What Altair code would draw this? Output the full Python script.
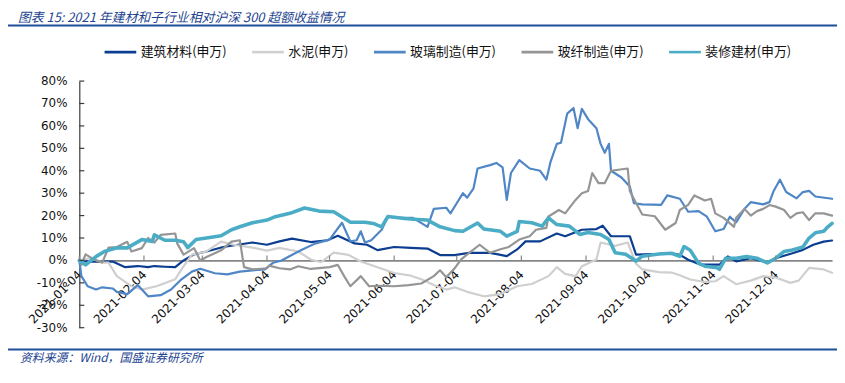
import altair as alt
import pandas as pd

# ---------------- data ----------------
TITLE = "图表 15:  2021 年建材和子行业相对沪深 300 超额收益情况"
SOURCE = "资料来源：Wind，国盛证券研究所"
START = "2021-01-04"
END = "2021-12-31"

SERIES = ["建筑材料(申万)", "水泥(申万)", "玻璃制造(申万)", "玻纤制造(申万)", "装修建材(申万)"]

# days since 2021-01-04 and excess return (%)
jzcl_days = [0, 5, 16, 22, 28, 33, 36, 41, 46, 50, 55, 61, 69, 76, 83, 90, 96, 102, 111, 119,
             124, 132, 138, 143, 151, 159, 167, 173, 180, 187, 197, 202, 205, 210, 214, 221, 229, 233, 241, 248,
             251, 255, 264, 267, 278, 284, 288, 292, 298, 307, 311, 315, 322, 330, 334, 342, 347, 352, 357, 361]
jzcl_vals = [0, -0.5, -0.5, -3, -2.5, -3, -2.5, -2.8, -3, 0, 2.7, 4, 6, 7, 8, 7, 8.5, 9.7, 8.2, 9,
             11, 7.6, 7, 4.6, 6, 5.6, 5.3, 2.4, 2.4, 3.4, 3.4, 2.5, 1.9, 4.9, 8.5, 8.5, 12, 10.8, 13.7, 14,
             15.5, 10.8, 10.8, 2.6, 2.9, 3.2, 2.5, 0.3, -1.9, -1.9, 1.8, -0.4, 1, -0.9, 1, 3.2, 4.7, 7, 8.4, 8.9]

sn_days = [0, 5, 12, 14, 18, 25, 30, 37, 46, 49, 54, 61, 68, 74, 83, 90, 96, 105, 111, 116,
           122, 129, 135, 143, 151, 159, 164, 170, 176, 180, 186, 194, 202, 210, 217, 225, 229, 233, 238, 241,
           248, 250, 257, 263, 267, 270, 278, 284, 288, 293, 300, 305, 309, 315, 322, 328, 334, 341, 345, 350,
           357, 361]
sn_vals = [0, 1, -1, -1, -7, -11.5, -13, -11.5, -8.4, -4, 2.6, 4, 8.4, 7, 5.7, 4.4, 5.6, 4, 0.4, -0.8,
           3.5, 2.5, -0.5, -3, -5.6, -6.8, -8.4, -11, -13, -12, -14, -16, -15, -11.5, -10.5, -7, -3, -6, -7, -2.6,
           0.4, 8, 6.5, 8, -1.5, -4, -5.2, -5.4, -6.6, -8.5, -9.6, -9.3, -7, -10.6, -9, -7, -7.6, -10, -9, -3.3,
           -4, -5.5]

blzz_days = [0, 1, 4, 8, 11, 16, 18, 23, 28, 33, 39, 44, 49, 54, 58, 65, 71, 77, 83, 89,
             93, 97, 101, 107, 113, 120, 126, 130, 133, 135, 137, 140, 145, 148, 154, 160, 167, 170, 176, 178,
             181, 184, 186, 189, 191, 197, 200, 203, 205, 207, 211, 216, 221, 224, 226, 229, 231, 234, 237, 239,
             241, 244, 248, 250, 252, 254, 255, 260, 264, 266, 270, 279, 282, 288, 292, 297, 301, 305, 309, 312,
             315, 319, 322, 328, 331, 333, 336, 339, 344, 347, 350, 353, 361]
blzz_vals = [0, -7, -11.5, -13, -12, -12.5, -14, -15, -11, -16, -15.5, -13, -8.4, -5, -3.7, -5.7, -6.2, -5, -4.4, -4,
             -1, 0, 2, 4.9, 7.5, 9.3, 16.8, 8.5, 9, 13, 8, 9, 13.7, 19.5, 19, 19, 15, 23, 23.5, 21,
             25.5, 30, 28, 32, 41, 42.5, 43.5, 41.5, 27, 39, 44.7, 41, 40, 36, 44, 52, 52.5, 65.5, 68, 59,
             67.6, 63, 59, 52, 48, 52, 40, 37, 33, 25.5, 25, 24.8, 29, 27.5, 21.7, 22, 19.5, 13, 14, 19.5,
             17, 23, 26, 25, 26, 31, 36, 30.5, 27.7, 30.5, 31, 28.5, 27.5]

blxw_days = [0, 1, 3, 6, 11, 14, 18, 23, 25, 30, 33, 36, 39, 46, 47, 50, 55, 58, 61, 68,
             73, 77, 79, 83, 90, 91, 96, 101, 105, 111, 120, 124, 127, 130, 135, 139, 143, 151, 158, 164,
             170, 173, 176, 180, 183, 187, 192, 197, 202, 206, 211, 216, 219, 224, 225, 230, 233, 238, 241, 244,
             246, 249, 252, 255, 263, 264, 267, 270, 276, 281, 286, 288, 292, 295, 300, 303, 305, 309, 314, 315,
             319, 322, 325, 328, 331, 334, 338, 341, 344, 347, 350, 353, 357, 361]
blxw_vals = [0, -2, 2.7, 1, -1, 5.7, 6, 8.3, 4, 5.5, 10, 8, 11.4, 12, 7.5, 2.6, 5.5, 0, 1.5, 4.5,
             8.4, 9, -3, -4, -3.5, -2.3, -3.5, -4, -2.6, -3.8, -3, -2, -7, -11.5, -7, -11.5, -11.3, -11.5, -11, -10.3,
             -7, -4.4, -7.5, -3.5, 0.4, 3.4, 7, 3.4, 5, 6, 9.3, 10.8, 13.7, 14.5, 19.6, 22.5, 21, 27, 30, 31,
             39, 34.5, 34.5, 40, 41, 31, 25.6, 20.5, 19.7, 13.7, 16.7, 22.5, 24.8, 29, 26.7, 27.5, 21, 19, 15, 19,
             23, 20, 22, 23, 24.7, 24, 22.5, 19, 21, 21.5, 18, 21, 21, 20]

zxjc_days = [0, 3, 8, 12, 18, 23, 30, 35, 36, 41, 46, 50, 52, 56, 61, 68, 73, 77, 83, 90,
             94, 101, 108, 115, 122, 130, 137, 141, 145, 148, 156, 162, 167, 173, 180, 184, 191, 194, 202, 205,
             210, 211, 217, 222, 225, 229, 235, 240, 244, 250, 254, 257, 262, 267, 270, 278, 284, 288, 290, 293,
             297, 300, 306, 307, 310, 315, 320, 325, 330, 334, 338, 342, 347, 350, 353, 357, 359, 361]
zxjc_vals = [0, -2, 1.7, 4, 5.6, 5.6, 9.3, 8.5, 11.4, 9, 9, 8.3, 5.7, 9.3, 10, 11, 13.7, 15, 16.8, 18,
             19.5, 21, 23.4, 22, 21.7, 17, 17, 16.5, 15, 19.6, 18.7, 18.3, 18, 15, 13.3, 13, 16.7, 14, 13, 10.8,
             13, 17.4, 16.8, 15.3, 19, 16, 15.3, 11.6, 12.5, 11.6, 9.3, 3.4, 2.8, -0.3, 1.9, 2.9, 3.2, 1.8, 6.2, 4.5,
             -1.2, -2.6, -3.3, -4, 1, 1, 1.7, 1, -1.1, 1, 4, 4.7, 6, 10, 12.3, 13, 15, 16.5]

TICK_MONTHS = list(range(1, 13))
Y_TICKS = [-30, -20, -10, 0, 10, 20, 30, 40, 50, 60, 70, 80]
Y_MIN, Y_MAX = -30, 80

# ---------------- styles ----------------
COLORS = ["#0B3D91", "#CFCFCF", "#4F86C6", "#959595", "#4BACC6"]
WIDTHS = [2.2, 2.2, 2.2, 2.2, 3.6]
TEXT_BLUE = "#22438F"
RULE_BLUE = "#1F4E9B"
CJK = "Noto Sans CJK SC"
LATIN = "DejaVu Sans"

W, H = 760, 249

# ---------------- build table ----------------
frames = []
for name, d, v in [(SERIES[0], jzcl_days, jzcl_vals), (SERIES[1], sn_days, sn_vals),
                   (SERIES[2], blzz_days, blzz_vals), (SERIES[3], blxw_days, blxw_vals),
                   (SERIES[4], zxjc_days, zxjc_vals)]:
    frames.append(pd.DataFrame({
        "date": pd.Timestamp(START) + pd.to_timedelta(d, unit="D"),
        "value": v,
        "series": name,
    }))
df = pd.concat(frames, ignore_index=True)

tick_df = pd.DataFrame({"date": [pd.Timestamp(f"2021-{m:02d}-04") for m in TICK_MONTHS],
                        "value": [0] * len(TICK_MONTHS)})
ytick_df = pd.DataFrame({"value": Y_TICKS, "label": [f"{v}%" for v in Y_TICKS]})

x_scale = alt.Scale(domain=[alt.DateTime(year=2021, month=1, date=4),
                            alt.DateTime(year=2021, month=12, date=31)], nice=False)
y_scale = alt.Scale(domain=[Y_MIN, Y_MAX], nice=False, zero=False)

zero_offset = -round(H * (0 - Y_MIN) / (Y_MAX - Y_MIN))

x_axis = alt.Axis(values=[alt.DateTime(year=2021, month=m, date=4) for m in TICK_MONTHS],
                  format="%Y-%m-%d", labelAngle=315, labelAlign="right", labelBaseline="middle",
                  labelPadding=12, tickSize=0, grid=False, offset=zero_offset,
                  domainColor="#868686", domainWidth=1.6, labelOverlap=False, labelFlush=False,
                  labelFont=LATIN, labelFontSize=12, labelColor="#111111", title=None)
y_axis = alt.Axis(values=Y_TICKS, labels=False, tickSize=0, grid=False,
                  domainColor="#3A3A3A", domainWidth=1.2, title=None)

X = alt.X("date:T", scale=x_scale, axis=x_axis)
Y = alt.Y("value:Q", scale=y_scale, axis=y_axis)

color = alt.Color("series:N", scale=alt.Scale(domain=SERIES, range=COLORS),
                  legend=alt.Legend(orient="none", legendX=24, legendY=-47, direction="horizontal",
                                    columns=5, title=None, symbolType="stroke", symbolSize=1024,
                                    symbolStrokeWidth=2.6, labelFont=CJK, labelFontSize=13,
                                    labelColor="#111111", columnPadding=20, labelOffset=3, padding=0))

layers = []
for name, w in zip(SERIES, WIDTHS):
    layers.append(
        alt.Chart(df).transform_filter(alt.datum.series == name)
        .mark_line(strokeWidth=w, strokeJoin="round", strokeCap="round")
        .encode(x=X, y=Y, color=color)
    )

# small inward ticks on both axes
xticks = alt.Chart(tick_df).mark_rule(color="#868686", strokeWidth=1.2, y2Offset=-5).encode(
    x=X, y=Y, y2="value:Q")
yticks = alt.Chart(ytick_df).mark_rule(color="#3A3A3A", strokeWidth=1.2).encode(
    y=Y, x=alt.value(0), x2=alt.value(5))
ylabels = alt.Chart(ytick_df).mark_text(
    align="right", baseline="middle", font=LATIN, fontSize=12, color="#111111", dx=-12
).encode(y=Y, x=alt.value(0), text="label:N")

one = pd.DataFrame({"k": [0]})
title_layer = alt.Chart(pd.DataFrame({"t": [TITLE]})).mark_text(
    align="left", baseline="middle", font=CJK, fontSize=13, fontStyle="italic", color=TEXT_BLUE
).encode(text="t:N", x=alt.value(-62), y=alt.value(-64))
source_layer = alt.Chart(pd.DataFrame({"t": [SOURCE]})).mark_text(
    align="left", baseline="middle", font=CJK, fontSize=12, fontStyle="italic", color=TEXT_BLUE
).encode(text="t:N", x=alt.value(-60), y=alt.value(280))
top_rule = alt.Chart(one).mark_rule(color=RULE_BLUE, strokeWidth=2).encode(
    x=alt.value(-72), x2=alt.value(765), y=alt.value(-56))
bottom_rule = alt.Chart(one).mark_rule(color=RULE_BLUE, strokeWidth=2).encode(
    x=alt.value(-72), x2=alt.value(765), y=alt.value(271))

chart = alt.layer(*layers, xticks, yticks, ylabels, title_layer, source_layer, top_rule, bottom_rule).properties(
    width=W, height=H,
    padding={"left": 72, "top": 72, "right": 5, "bottom": 48},
    autosize=alt.AutoSizeParams(type="none"),
    background="white",
).configure_view(stroke=None)

chart.save("out.html", embed_options={"renderer": "svg", "actions": False})
